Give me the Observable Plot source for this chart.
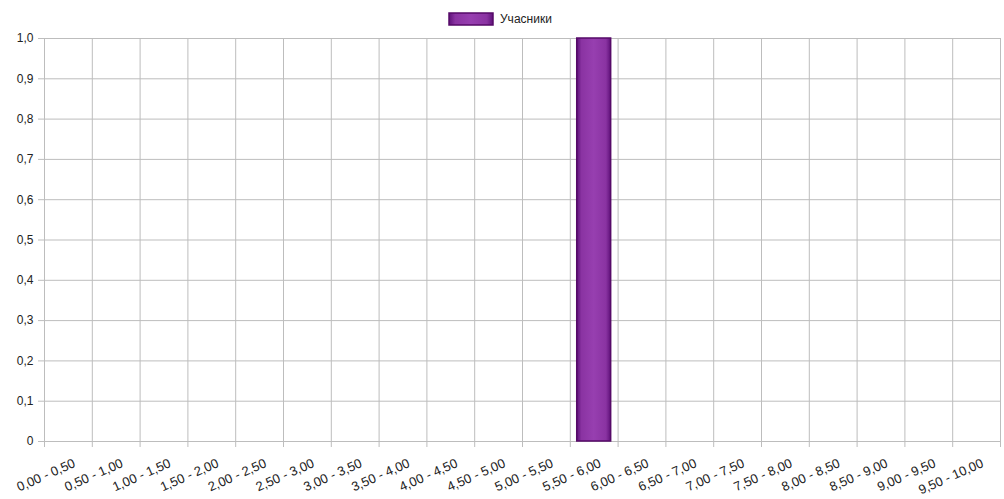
<!DOCTYPE html>
<html>
<head>
<meta charset="utf-8">
<script src="https://cdn.jsdelivr.net/npm/d3@7"></script>
<script src="https://cdn.jsdelivr.net/npm/@observablehq/plot@0.6"></script>
<style>
  html, body { margin: 0; padding: 0; background: #fff; }
  svg { display: block; }
</style>
</head>
<body>
<div id="chart"></div>
<script>
const categories = ["0,00 - 0,50","0,50 - 1,00","1,00 - 1,50","1,50 - 2,00","2,00 - 2,50","2,50 - 3,00","3,00 - 3,50","3,50 - 4,00","4,00 - 4,50","4,50 - 5,00","5,00 - 5,50","5,50 - 6,00","6,00 - 6,50","6,50 - 7,00","7,00 - 7,50","7,50 - 8,00","8,00 - 8,50","8,50 - 9,00","9,00 - 9,50","9,50 - 10,00"];
const values = [0,0,0,0,0,0,0,0,0,0,0,1,0,0,0,0,0,0,0,0];
const yTicks = [0,0.1,0.2,0.3,0.4,0.5,0.6,0.7,0.8,0.9,1.0];
const seriesName = "Учасники";

const data = categories.map((c, i) => ({cat: c, value: values[i]}));

const W = 1004, H = 499, mL = 44, mR = 4, mT = 38, mB = 58;
const pIn = 0.29, pOut = 0.145;
const step = (W - mL - mR) / categories.length;
const edgeOffset = -step / 2;

const fmt = d => d === 0 ? "0" : d3.format(".1f")(d).replace(".", ",");
const gridColor = "#bdbdbd";
const font = "'Liberation Sans', Arial, sans-serif";

const chart = Plot.plot({
  width: W,
  height: H,
  marginLeft: mL,
  marginRight: mR,
  marginTop: mT,
  marginBottom: mB,
  style: {fontFamily: font, fontSize: "12px", color: "#222", background: "#fff"},
  x: {domain: categories, paddingInner: pIn, paddingOuter: pOut, round: false, label: null},
  y: {domain: [0, 1], label: null},
  marks: [
    Plot.ruleY(yTicks, {stroke: gridColor, strokeWidth: 1, strokeOpacity: 1, insetLeft: -6}),
    Plot.ruleX(categories, {x: d => d, dx: edgeOffset, stroke: gridColor, strokeOpacity: 1, insetBottom: -6}),
    Plot.ruleX([categories[categories.length - 1]], {dx: -edgeOffset, stroke: gridColor, strokeOpacity: 1, insetBottom: -6}),
    Plot.barY(data, {x: "cat", y: "value", fill: "url(#barGrad)", stroke: "#560a68", strokeWidth: 1.5}),
    Plot.axisY({ticks: yTicks, tickFormat: fmt, tickSize: 0, tickPadding: 11, fontSize: 12, fill: "#222"}),
    Plot.axisX({tickSize: 0, tickRotate: -24, tickPadding: 21, dx: 6, fontSize: 13, fill: "#222"})
  ]
});

const svg = d3.select(chart);
const defs = svg.insert("defs", ":first-child");
const grad = defs.append("linearGradient").attr("id", "barGrad").attr("x1", "0").attr("x2", "1").attr("y1", "0").attr("y2", "0");
grad.append("stop").attr("offset", "0%").attr("stop-color", "#5f127a");
grad.append("stop").attr("offset", "14%").attr("stop-color", "#8a33a2");
grad.append("stop").attr("offset", "50%").attr("stop-color", "#973fb0");
grad.append("stop").attr("offset", "86%").attr("stop-color", "#8a33a2");
grad.append("stop").attr("offset", "100%").attr("stop-color", "#5f127a");

const lg = svg.append("g").attr("class", "legend");
lg.append("rect").attr("x", 449).attr("y", 13).attr("width", 44).attr("height", 12)
  .attr("fill", "url(#barGrad)").attr("stroke", "#560a68").attr("stroke-width", 1.5);
lg.append("text").attr("x", 500).attr("y", 19).attr("dy", "0.35em")
  .attr("text-anchor", "start")
  .attr("font-family", font).attr("font-size", 12).attr("fill", "#222")
  .text(seriesName);

document.getElementById("chart").appendChild(chart);
</script>
</body>
</html>
